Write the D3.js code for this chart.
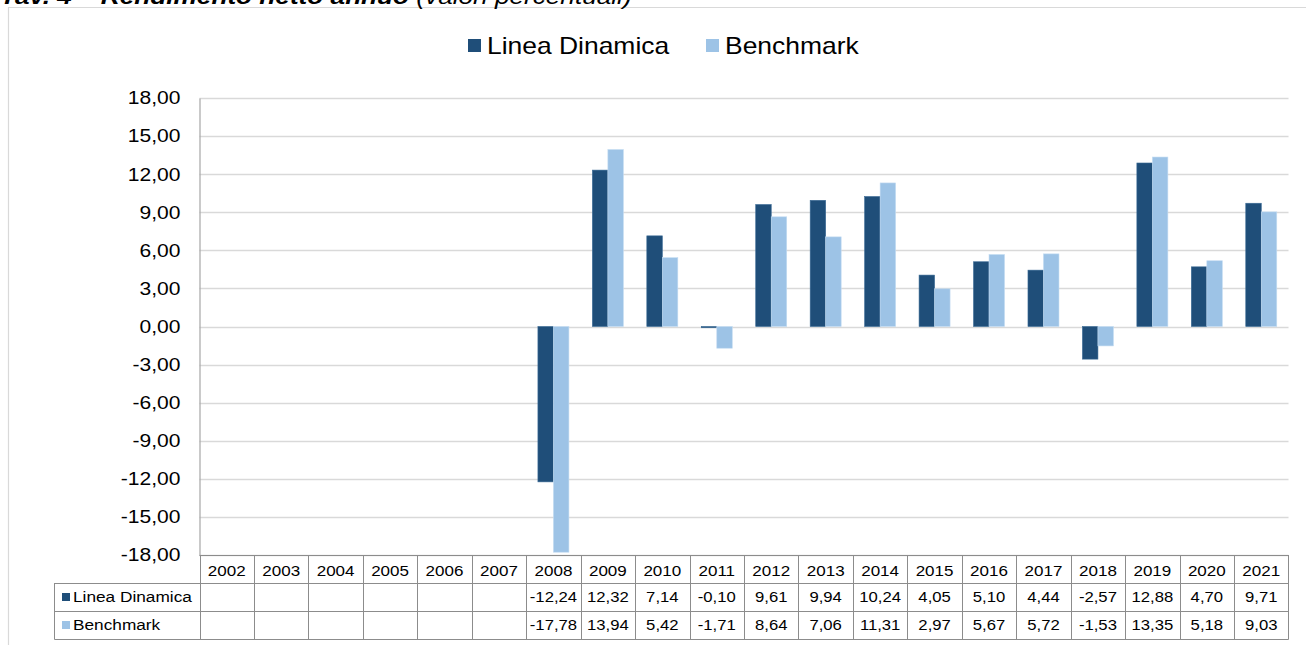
<!DOCTYPE html>
<html><head><meta charset="utf-8">
<script src="https://cdn.jsdelivr.net/npm/d3@7"></script>
<style>
html,body{margin:0;padding:0;background:#fff;}
svg{display:block;font-family:"Liberation Sans",Arial,sans-serif;}
</style></head>
<body>
<svg id="chart" width="1306" height="645"></svg>
<script>
const years = ["2002","2003","2004","2005","2006","2007","2008","2009","2010","2011","2012","2013","2014","2015","2016","2017","2018","2019","2020","2021"];
const lineaDinamica = [null,null,null,null,null,null,-12.24,12.32,7.14,-0.10,9.61,9.94,10.24,4.05,5.10,4.44,-2.57,12.88,4.70,9.71];
const benchmark = [null,null,null,null,null,null,-17.78,13.94,5.42,-1.71,8.64,7.06,11.31,2.97,5.67,5.72,-1.53,13.35,5.18,9.03];
const seriesNames = ["Linea Dinamica","Benchmark"];
const yTicks = [18,15,12,9,6,3,0,-3,-6,-9,-12,-15,-18];
const titleBold = "Tav. 4 – Rendimento netto annuo";
const titleItalic = " (valori percentuali)";

(function(){
const SX = 1.15; // horizontal stretch of the reference's text
const colors = ["#1F4E79","#9DC3E6"];
const series = [lineaDinamica, benchmark];
const svg = d3.select("#chart");
const fmt = v => v == null ? "" : v.toFixed(2).replace(".", ",");
const place = (sel, x, y, sx) => sel.attr("transform", `translate(${x},${y}) scale(${sx||SX},1)`);

// outer frame
svg.append("path").attr("d","M8.5,645 V7.5 H1306").attr("fill","none").attr("stroke","#d9d9d9").attr("stroke-width",1.2);

// cut-off title
const t = svg.append("text").attr("font-size",22).attr("font-style","italic").attr("fill","#000");
place(t, 0, 4, 1.19);
t.append("tspan").attr("font-weight","bold").text(titleBold);
t.append("tspan").text(titleItalic);

const pLeft = 199.5, pRight = 1288.5, pTop = 98, pBottom = 555;
const x = d3.scaleBand().domain(years).range([pLeft, pRight]).padding(0);
const y = d3.scaleLinear().domain([-18, 18]).range([pBottom, pTop]);
const inner = d3.scaleBand().domain([0,1]).range([0, 31]).padding(0);

// gridlines
svg.append("g").selectAll("line").data(yTicks).join("line")
  .attr("x1", pLeft).attr("x2", pRight)
  .attr("y1", d => Math.round(y(d))+0.5).attr("y2", d => Math.round(y(d))+0.5)
  .attr("stroke","#d9d9d9").attr("stroke-width",1.5);

// y axis
const yAxis = d3.axisLeft(y).tickValues(yTicks).tickSize(0).tickPadding(19).tickFormat(d => d.toFixed(2).replace(".", ","));
const ga = svg.append("g").attr("transform",`translate(${pLeft},0)`).call(yAxis);
ga.select(".domain").attr("stroke","#a6a6a6").attr("stroke-width",1.2);
ga.selectAll("text").attr("font-size",18.3).attr("fill","#000").attr("font-family","Liberation Sans, Arial, sans-serif")
  .attr("x", -19/SX).attr("transform", `scale(${SX},1)`);

// bars
series.forEach((s, si) => {
  svg.append("g").selectAll("rect").data(years.map((yr,i)=>({yr, v:s[i]})).filter(d=>d.v!=null)).join("rect")
    .attr("x", d => x(d.yr) + x.bandwidth()/2 - 15.5 + inner(si))
    .attr("width", inner.bandwidth())
    .attr("y", d => y(Math.max(0,d.v)))
    .attr("height", d => Math.abs(y(d.v) - y(0)))
    .attr("fill", colors[si])
    .attr("stroke", si===0 ? "#3a6a95" : "#c4dcf2").attr("stroke-width",0.6);
});

// legend
const leg = svg.append("g");
const legX = [468, 706];
seriesNames.forEach((n,i)=>{
  leg.append("rect").attr("x",legX[i]).attr("y",39).attr("width",13).attr("height",13).attr("fill",colors[i]);
  place(leg.append("text").attr("font-size",23).attr("fill","#000").text(n), legX[i]+19, 54);
});

// data table
const rowTop = [555, 583, 611, 639];
const tblLeft = 54.5;
const tbl = svg.append("g");
const bc = "#8c8c8c";
tbl.append("line").attr("x1",pLeft).attr("x2",pRight).attr("y1",rowTop[0]+0.5).attr("y2",rowTop[0]+0.5).attr("stroke",bc);
[1,2,3].forEach(r=>{
  tbl.append("line").attr("x1",tblLeft).attr("x2",pRight).attr("y1",rowTop[r]+0.5).attr("y2",rowTop[r]+0.5).attr("stroke",bc);
});
tbl.append("line").attr("x1",tblLeft).attr("x2",tblLeft).attr("y1",rowTop[1]).attr("y2",rowTop[3]+0.5).attr("stroke",bc);
years.forEach(yr=>{
  const xx = Math.round(x(yr))+0.5;
  tbl.append("line").attr("x1",xx).attr("x2",xx).attr("y1",rowTop[0]).attr("y2",rowTop[3]+0.5).attr("stroke",bc);
});
tbl.append("line").attr("x1",pRight).attr("x2",pRight).attr("y1",rowTop[0]).attr("y2",rowTop[3]+0.5).attr("stroke",bc);
tbl.selectAll("text.yr").data(years).join("text").attr("class","yr")
  .attr("text-anchor","middle").attr("font-size",14.8).attr("fill","#000").text(d=>d)
  .attr("transform", d => `translate(${x(d)+x.bandwidth()/2},576) scale(${SX},1)`);
series.forEach((s,si)=>{
  const yy = rowTop[si+1];
  tbl.append("rect").attr("x",62).attr("y",yy+10).attr("width",8).attr("height",8).attr("fill",colors[si]);
  place(tbl.append("text").attr("font-size",15).attr("fill","#000").text(seriesNames[si]), 73, yy+19);
  tbl.append("g").selectAll("text").data(years.map((yr,i)=>({yr,v:s[i]}))).join("text")
    .attr("text-anchor","middle").attr("font-size",14.5).attr("fill","#000").text(d=>fmt(d.v))
    .attr("transform", d => `translate(${x(d.yr)+x.bandwidth()/2},${yy+19}) scale(${SX},1)`);
});
})();
</script>
</body></html>
